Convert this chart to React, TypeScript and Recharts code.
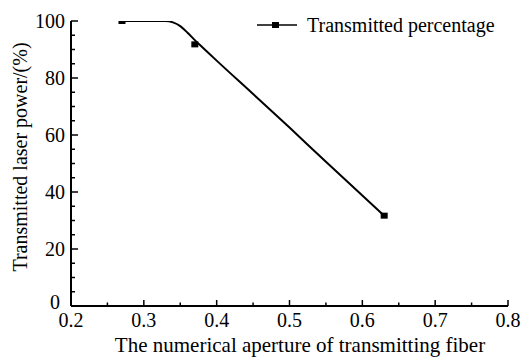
import React from 'react';
import { ComposedChart, Line, Scatter, XAxis, YAxis, Label } from 'recharts';

const curveX = [0.27, 0.33, 0.34, 0.35, 0.36, 0.37, 0.38, 0.4, 0.45, 0.5, 0.55, 0.6, 0.63];
const curveY = [100, 100, 99.5, 98.2, 95.9, 93.3, 90.9, 86.1, 74.4, 62.6, 50.6, 38.8, 31.7];
const pointX = [0.27, 0.37, 0.63];
const pointY = [100, 91.8, 31.7];
const xTicks = [0.2, 0.25, 0.3, 0.35, 0.4, 0.45, 0.5, 0.55, 0.6, 0.65, 0.7, 0.75, 0.8];
const yTicks = [0, 5, 10, 15, 20, 25, 30, 35, 40, 45, 50, 55, 60, 65, 70, 75, 80, 85, 90, 95, 100];
const seriesName = 'Transmitted percentage';
const xTitle = 'The numerical aperture of transmitting fiber';
const yTitle = 'Transmitted laser power/(%)';

const curveData = curveX.map((x, i) => ({ x, y: curveY[i] }));
const pointData = pointX.map((x, i) => ({ x, y: pointY[i] }));

const FONT =
  "'Liberation Serif', 'Times New Roman', Times, 'Nimbus Roman', 'FreeSerif', 'DejaVu Serif', 'Noto Serif', serif";
const TXT: React.CSSProperties = { fontFamily: FONT, fontSize: 20 };
const AXIS_MARGIN = 6;

const YTick = (props: any) => {
  const { x, y, payload } = props;
  const v = payload.value as number;
  const major = v % 20 === 0;
  const ax = x + AXIS_MARGIN;
  return (
    <g>
      <line x1={ax} x2={ax + (major ? 7 : 4)} y1={y} y2={y} stroke="#000" strokeWidth={1.5} />
      {major && (
        <text x={v === 0 ? x - 5 : x} y={v === 0 ? y - 4 : y} dy="0.35em" textAnchor="end" style={TXT} fill="#000">
          {v}
        </text>
      )}
    </g>
  );
};

const XTick = (props: any) => {
  const { x, y, payload } = props;
  const v = payload.value as number;
  const major = Math.round(v * 100) % 10 === 0;
  const ay = y - AXIS_MARGIN;
  return (
    <g>
      <line x1={x} x2={x} y1={ay} y2={ay - (major ? 6 : 3.5)} stroke="#000" strokeWidth={1.5} />
      {major && (
        <text x={x} y={ay + 21} textAnchor="middle" style={TXT} fill="#000">
          {v.toFixed(1)}
        </text>
      )}
    </g>
  );
};

const SquareDot = (props: any) => {
  const { cx, cy } = props;
  return <rect x={cx - 3.5} y={cy - 3} width={7} height={6} fill="#000" />;
};

const XTitle = () => (
  <g>
    <text x={300} y={352} textAnchor="middle" style={{ ...TXT, fontSize: 21 }} fill="#000">
      {xTitle}
    </text>
    <line x1={257} x2={297} y1={25} y2={25} stroke="#000" strokeWidth={1.5} />
    <rect x={272} y={22} width={7} height={6} fill="#000" />
    <text x={307} y={32} style={TXT} fill="#000">
      {seriesName}
    </text>
  </g>
);

const YTitle = () => (
  <text
    x={20}
    y={157}
    transform="rotate(-90 20 157)"
    textAnchor="middle"
    dominantBaseline="central"
    style={TXT}
    fill="#000"
  >
    {yTitle}
  </text>
);

export default function App() {
  return (
    <div style={{ position: 'absolute', left: 0, top: 0, background: '#fff' }}>
      <ComposedChart width={522} height={358} margin={{ top: 21, right: 14, left: 0, bottom: 0 }}>
        <XAxis
          type="number"
          dataKey="x"
          domain={[0.2, 0.8]}
          ticks={xTicks}
          interval={0}
          height={52}
          tickLine={false}
          tickSize={0}
          tickMargin={AXIS_MARGIN}
          tick={<XTick />}
          axisLine={{ stroke: '#000', strokeWidth: 2 }}
          allowDataOverflow
        >
          <Label content={<XTitle />} />
        </XAxis>
        <YAxis
          type="number"
          domain={[0, 100]}
          ticks={yTicks}
          interval={0}
          width={71}
          tickLine={false}
          tickSize={0}
          tickMargin={AXIS_MARGIN}
          tick={<YTick />}
          axisLine={{ stroke: '#000', strokeWidth: 2 }}
          allowDataOverflow
        >
          <Label content={<YTitle />} />
        </YAxis>
        <Line
          data={curveData}
          dataKey="y"
          type="monotone"
          stroke="#000"
          strokeWidth={2}
          dot={false}
          activeDot={false}
          isAnimationActive={false}
          name={seriesName}
        />
        <Scatter data={pointData} dataKey="y" fill="#000" shape={<SquareDot />} isAnimationActive={false} name={seriesName} />
      </ComposedChart>
    </div>
  );
}
